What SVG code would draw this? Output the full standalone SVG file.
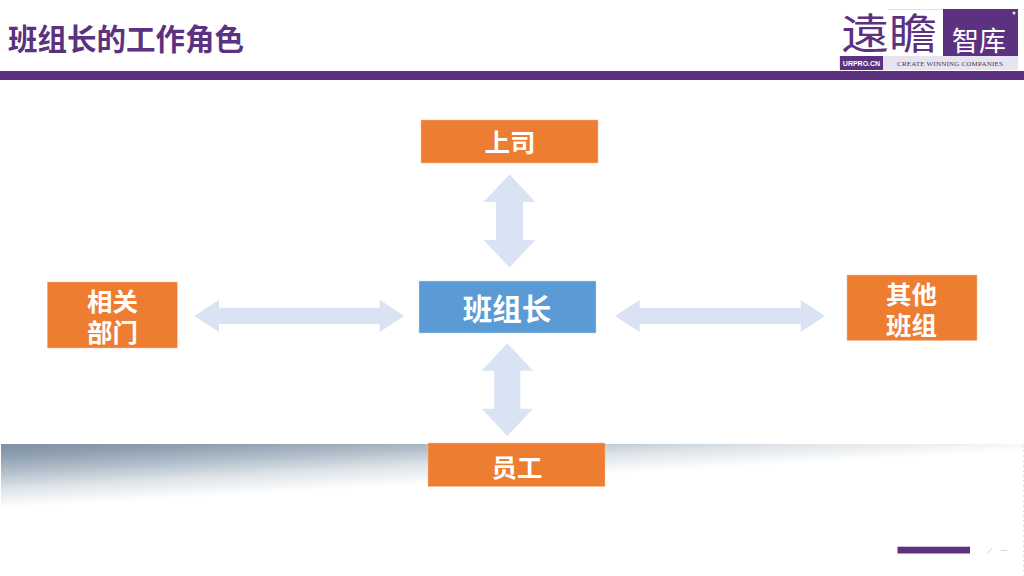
<svg xmlns="http://www.w3.org/2000/svg" width="1024" height="576" viewBox="0 0 1024 576">
  <style>
    text { font-family: "Noto Sans CJK SC", "Liberation Sans", sans-serif; }
    .box { fill: #ed7d31; stroke: #f6bd98; stroke-width: 0.5; }
    .blue { fill: #5b9bd5; stroke: #c5dcf0; stroke-width: 0.5; }
    .lab { fill: #fff; font-weight: 700; font-size: 25.500px; text-anchor: middle; }
    .arrow { fill: #dae3f3; }
  </style>
  <defs>
    <linearGradient id="band" gradientUnits="userSpaceOnUse" x1="0" y1="444" x2="3.600" y2="508">
      <stop offset="0" stop-color="#7f90a6"/>
      <stop offset="0.2" stop-color="#8fa0b1"/>
      <stop offset="0.45" stop-color="#b3c0cb"/>
      <stop offset="0.7" stop-color="#dee4e9"/>
      <stop offset="1" stop-color="#ffffff"/>
    </linearGradient>
  </defs>
  <rect width="1024" height="576" fill="#ffffff"/>

  <g id="background-band">
    <rect x="1" y="444" width="1023" height="66" fill="url(#band)"/>
    <line x1="1023.500" y1="445" x2="1023.500" y2="576" stroke="#e4e4e4" stroke-dasharray="2 3"/>
  </g>

  <g id="header">
    <text x="8" y="50" font-size="29.500" font-weight="700" fill="#5c3280">班组长的工作角色</text>
    <rect x="0" y="71" width="1024" height="9" fill="#5c3280"/>
  </g>

  <g id="logo">
    <line x1="888" y1="9.500" x2="943" y2="9.500" stroke="#e4deeb"/>
    <rect x="943" y="9" width="75" height="47" fill="#5c3280"/>
    <rect x="839" y="56" width="179" height="14" fill="#e8e3f0"/>
    <rect x="840" y="56" width="43" height="14" fill="#5c3280"/>
    <text x="841" y="49" font-size="42" fill="#5c3280" textLength="96" lengthAdjust="spacingAndGlyphs">遠瞻</text>
    <text x="952" y="51" font-size="27" fill="#ffffff">智库</text>
    <text x="861.500" y="65.500" font-size="7" font-weight="700" fill="#ffffff" text-anchor="middle" style="font-family:'Liberation Sans',sans-serif">URPRO.CN</text>
    <text x="950" y="65.500" font-size="7" fill="#3f3a4a" text-anchor="middle" textLength="106" style="font-family:'Liberation Serif',serif">CREATE WINNING COMPANIES</text>
    <circle cx="1014" cy="13" r="1.500" fill="#e8e3f0"/>
  </g>

  <g id="connectors">
    <polygon class="arrow" points="509.500,174.500 535.500,202 523,202 523,240 535.500,240 509.500,267.500 483.500,240 496,240 496,202 483.500,202"/>
    <polygon class="arrow" points="507.300,343.300 533,370.700 520.300,370.700 520.300,408.700 533,408.700 507.300,436 481.700,408.700 494.300,408.700 494.300,370.700 481.700,370.700"/>
    <polygon class="arrow" points="194.300,316 219,299.700 219,307.700 379.700,307.700 379.700,299.700 404.300,316 379.700,332 379.700,324 219,324 219,332"/>
    <polygon class="arrow" points="615,316 639.700,300 639.700,308 800.700,308 800.700,300 825,316 800.700,332 800.700,324 639.700,324 639.700,332"/>
  </g>

  <g id="node-shangsi">
    <rect class="box" x="421" y="120" width="177" height="43"/>
    <text class="lab" x="510" y="152">上司</text>
  </g>
  <g id="node-banzuzhang">
    <rect class="blue" x="419" y="281" width="177" height="52"/>
    <text class="lab" x="507" y="320" style="font-size:29.500px">班组长</text>
  </g>
  <g id="node-xiangguan">
    <rect class="box" x="47.300" y="282" width="130" height="66"/>
    <text class="lab"><tspan x="112.500" y="311">相关</tspan><tspan x="112.500" y="342">部门</tspan></text>
  </g>
  <g id="node-qita">
    <rect class="box" x="847" y="275" width="130" height="65.500"/>
    <text class="lab"><tspan x="911.500" y="304">其他</tspan><tspan x="911.500" y="335">班组</tspan></text>
  </g>
  <g id="node-yuangong">
    <rect class="box" x="428" y="443" width="177" height="43.500"/>
    <text class="lab" x="517" y="477">员工</text>
  </g>

  <g id="footer">
    <rect x="897.500" y="546.700" width="72.500" height="6.800" fill="#5c3280"/>
    <line x1="987" y1="553" x2="992" y2="548.500" stroke="#d8d0e2"/>
    <line x1="1001" y1="550.500" x2="1007" y2="550.500" stroke="#d8d0e2"/>
  </g>
</svg>
